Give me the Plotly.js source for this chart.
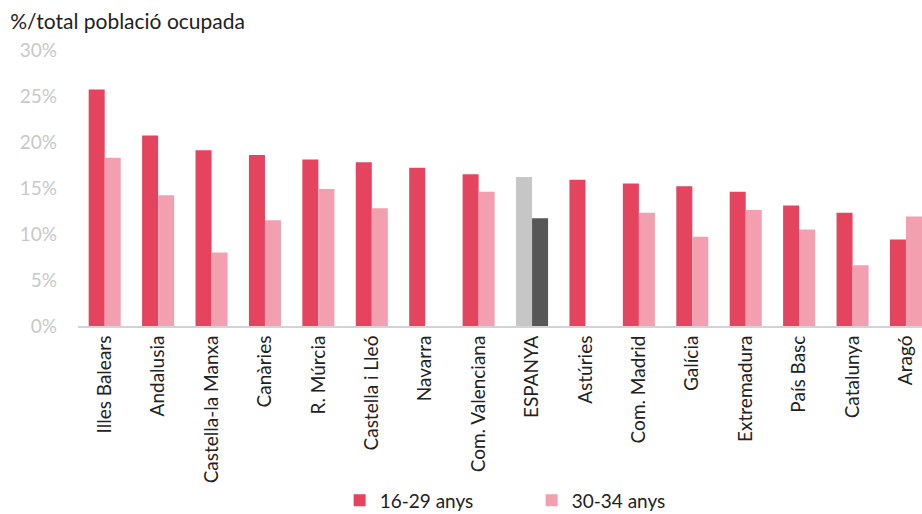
<!DOCTYPE html>
<html>
<head>
<meta charset="utf-8">
<script src="https://cdn.plot.ly/plotly-3.0.1.min.js"></script>
<style>html,body{margin:0;padding:0;background:#fff;}#chart{width:922px;height:514px;}</style>
</head>
<body>
<div id="chart"></div>
<script>
const categories = ["Illes Balears","Andalusia","Castella-la Manxa","Canàries","R. Múrcia","Castella i Lleó","Navarra","Com. Valenciana","ESPANYA","Astúries","Com. Madrid","Galícia","Extremadura","País Basc","Catalunya","Aragó"];
const young = [25.7, 20.7, 19.1, 18.6, 18.1, 17.8, 17.2, 16.5, 16.2, 15.9, 15.5, 15.2, 14.6, 13.1, 12.3, 9.4];
const older = [18.3, 14.2, 8.0, 11.5, 14.9, 12.8, null, 14.6, 11.7, null, 12.3, 9.7, 12.6, 10.5, 6.6, 11.9];
const seriesNames = ["16-29 anys", "30-34 anys"];
const yTicks = [0, 5, 10, 15, 20, 25, 30];

const red = "#e5445f", pink = "#f2a0af", lightGrey = "#c6c6c6", darkGrey = "#575757";
const youngColors = categories.map(c => c === "ESPANYA" ? lightGrey : red);
const olderColors = categories.map(c => c === "ESPANYA" ? darkGrey : pink);

const traces = [
  {type:"bar", name:seriesNames[0], x:categories, y:young,
   marker:{color:youngColors, line:{width:0}}, hoverinfo:"x+y"},
  {type:"bar", name:seriesNames[1], x:categories, y:older,
   marker:{color:olderColors, line:{width:0}}, hoverinfo:"x+y"}
];

const layout = {
  width:922, height:514,
  margin:{l:78, r:0, t:49.5, b:188, autoexpand:false},
  paper_bgcolor:"#fff", plot_bgcolor:"#fff",
  font:{family:"Lato, 'Noto Sans', sans-serif", color:"#222"},
  barmode:"group", bargap:0.4, bargroupgap:0,
  title:{text:"%/total població ocupada", x:0.011, xanchor:"left", xref:"container", y:0.957, yanchor:"middle", yref:"container",
         font:{size:21, color:"#222"}},
  xaxis:{type:"category", range:[-0.5, 15.3], tickangle:-90, tickfont:{size:19, color:"#222"}, automargin:false,
         showline:true, linecolor:"#d3d3d3", linewidth:2, ticks:"", showgrid:false, zeroline:false, fixedrange:true},
  yaxis:{range:[0, 30], tickvals:yTicks, ticktext:yTicks.map(v => v + "%"), tickfont:{size:19, color:"#c8c8c8"},
         showgrid:false, zeroline:false, showline:false, ticks:"", ticklen:0, ticklabelstandoff:20, automargin:false, fixedrange:true},
  showlegend:true,
  legend:{orientation:"h", x:0.31, xanchor:"left", y:-0.632, yanchor:"middle", font:{size:19, color:"#222"},
          entrywidth:147, entrywidthmode:"pixels", traceorder:"normal", itemclick:false, tracegroupgap:0}
};

Plotly.newPlot("chart", traces, layout, {displayModeBar:false, staticPlot:true});
</script>
</body>
</html>
